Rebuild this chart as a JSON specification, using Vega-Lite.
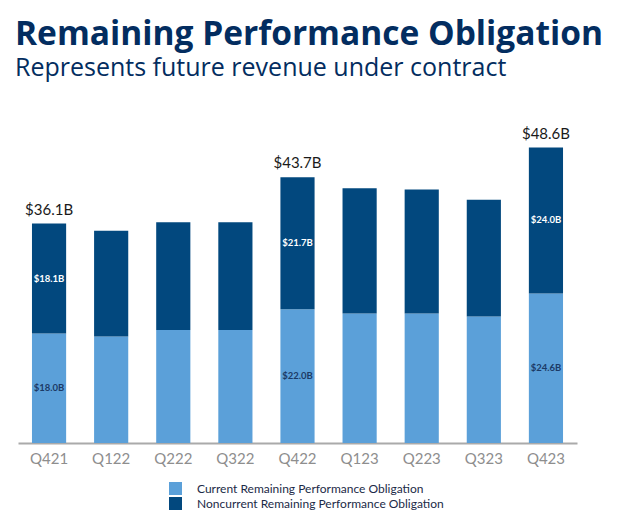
{
  "$schema": "https://vega.github.io/schema/vega-lite/v6.json",
  "autosize": {"type": "none"},
  "width": 559,
  "height": 304,
  "padding": {"left": 18, "top": 139, "right": 44, "bottom": 81},
  "background": "white",
  "title": {
    "text": "Remaining Performance Obligation",
    "subtitle": "Represents future revenue under contract",
    "anchor": "start",
    "frame": "group",
    "dx": -3,
    "offset": 45,
    "font": "Open Sans",
    "fontSize": 33.5,
    "fontWeight": "bold",
    "color": "#032D60",
    "subtitleFont": "Open Sans",
    "subtitleFontSize": 25,
    "subtitleFontWeight": "normal",
    "subtitleColor": "#032D60",
    "subtitlePadding": 3
  },
  "data": {
    "values": [
      {"quarter": "Q421", "series": "Current Remaining Performance Obligation", "value": 18.0},
      {"quarter": "Q421", "series": "Noncurrent Remaining Performance Obligation", "value": 18.1},
      {"quarter": "Q122", "series": "Current Remaining Performance Obligation", "value": 17.5},
      {"quarter": "Q122", "series": "Noncurrent Remaining Performance Obligation", "value": 17.4},
      {"quarter": "Q222", "series": "Current Remaining Performance Obligation", "value": 18.6},
      {"quarter": "Q222", "series": "Noncurrent Remaining Performance Obligation", "value": 17.7},
      {"quarter": "Q322", "series": "Current Remaining Performance Obligation", "value": 18.6},
      {"quarter": "Q322", "series": "Noncurrent Remaining Performance Obligation", "value": 17.7},
      {"quarter": "Q422", "series": "Current Remaining Performance Obligation", "value": 22.0},
      {"quarter": "Q422", "series": "Noncurrent Remaining Performance Obligation", "value": 21.7},
      {"quarter": "Q123", "series": "Current Remaining Performance Obligation", "value": 21.3},
      {"quarter": "Q123", "series": "Noncurrent Remaining Performance Obligation", "value": 20.6},
      {"quarter": "Q223", "series": "Current Remaining Performance Obligation", "value": 21.3},
      {"quarter": "Q223", "series": "Noncurrent Remaining Performance Obligation", "value": 20.4},
      {"quarter": "Q323", "series": "Current Remaining Performance Obligation", "value": 20.8},
      {"quarter": "Q323", "series": "Noncurrent Remaining Performance Obligation", "value": 19.2},
      {"quarter": "Q423", "series": "Current Remaining Performance Obligation", "value": 24.6},
      {"quarter": "Q423", "series": "Noncurrent Remaining Performance Obligation", "value": 24.0}
    ]
  },
  "encoding": {
    "x": {
      "field": "quarter",
      "type": "nominal",
      "sort": null,
      "scale": {"paddingInner": 0.45, "paddingOuter": 0.225},
      "axis": {
        "title": null,
        "labelAngle": 0,
        "labelFont": "Lato",
        "labelFontSize": 15,
        "labelColor": "#8E8E8E",
        "labelPadding": 8,
        "ticks": false,
        "domainColor": "#AAAAAA",
        "domainWidth": 2
      }
    }
  },
  "layer": [
    {
      "mark": {"type": "bar"},
      "encoding": {
        "y": {
          "field": "value",
          "type": "quantitative",
          "stack": "zero",
          "scale": {"domain": [0, 50], "nice": false},
          "axis": null
        },
        "order": {"field": "series", "sort": "ascending"},
        "color": {
          "field": "series",
          "type": "nominal",
          "scale": {
            "domain": ["Current Remaining Performance Obligation", "Noncurrent Remaining Performance Obligation"],
            "range": ["#5BA0D9", "#02487E"]
          },
          "legend": {
            "title": null,
            "orient": "none",
            "legendX": 151,
            "legendY": 343,
            "symbolType": "square",
            "symbolSize": 169,
            "symbolStrokeWidth": 0,
            "labelFont": "Lato",
            "labelFontSize": 12,
            "labelColor": "#1B2A47",
            "labelOffset": 15,
            "labelLimit": 400,
            "rowPadding": 2,
            "padding": 0
          }
        }
      }
    },
    {
      "transform": [{"filter": {"field": "quarter", "oneOf": ["Q421", "Q422", "Q423"]}}],
      "mark": {"type": "text", "font": "Lato", "fontSize": 9.5, "fontWeight": "bold", "baseline": "middle"},
      "encoding": {
        "y": {"field": "value", "type": "quantitative", "stack": "zero", "bandPosition": 0.5},
        "detail": {"field": "series"},
        "order": {"field": "series", "sort": "ascending"},
        "text": {"field": "value", "type": "quantitative", "format": "$.1f"},
        "color": {
          "condition": {"test": "datum.series === 'Noncurrent Remaining Performance Obligation'", "value": "#FFFFFF"},
          "value": "#1B3A66"
        }
      }
    },
    {
      "transform": [{"filter": {"field": "quarter", "oneOf": ["Q421", "Q422", "Q423"]}}],
      "mark": {"type": "text", "font": "Lato", "fontSize": 15, "color": "#1A1A1A", "baseline": "bottom", "dy": -6},
      "encoding": {
        "y": {"aggregate": "sum", "field": "value", "type": "quantitative"},
        "text": {"aggregate": "sum", "field": "value", "type": "quantitative", "format": "$.1f"}
      }
    }
  ],
  "config": {
    "view": {"stroke": null},
    "locale": {
      "number": {"decimal": ".", "thousands": ",", "grouping": [3], "currency": ["$", "B"]}
    }
  }
}
